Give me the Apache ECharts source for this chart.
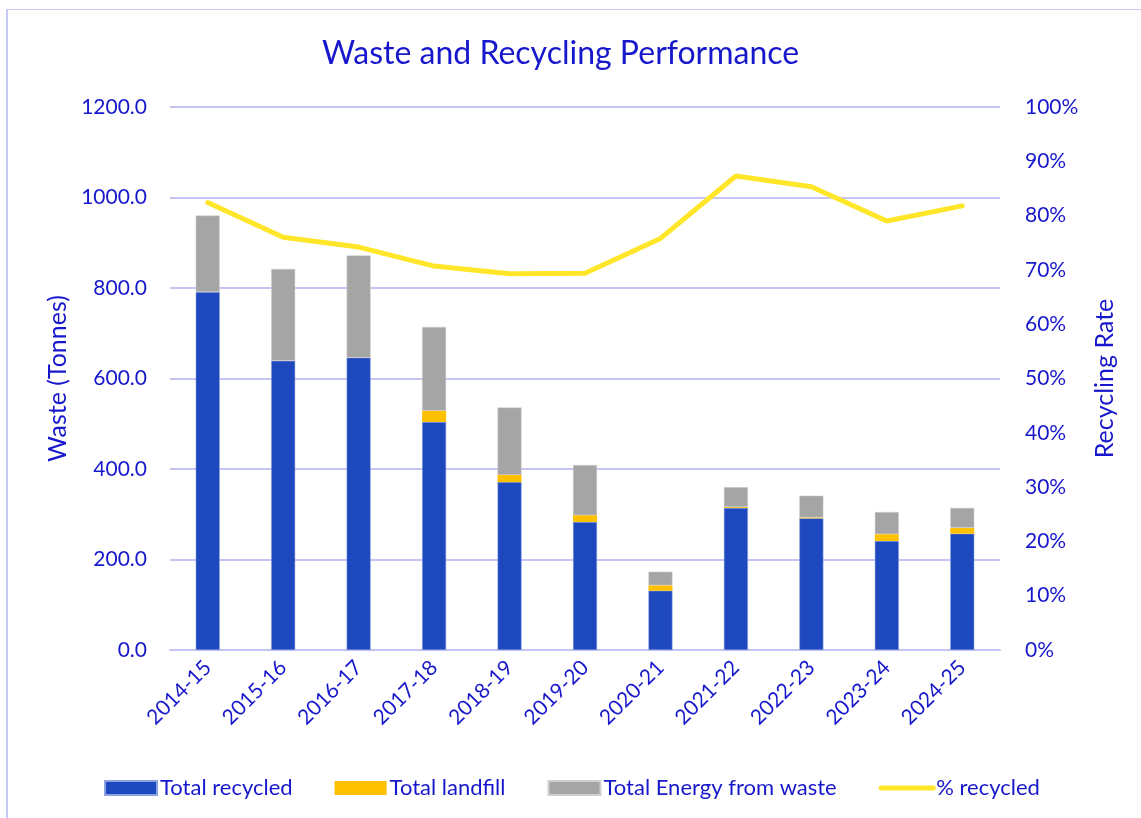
<!DOCTYPE html>
<html>
<head>
<meta charset="utf-8">
<script src="https://cdn.jsdelivr.net/npm/echarts@6/dist/echarts.min.js"></script>
<style>
  html, body { margin: 0; padding: 0; background: #fff; }
  #chart { width: 1141px; height: 818px; }
  #frame {
    position: absolute; left: 6px; top: 9px; right: -4px; bottom: -4px;
    border-left: 2px solid #C9C9F7; border-top: 1px solid #C9C9F7;
    pointer-events: none;
  }
</style>
</head>
<body>
<div id="chart"></div>
<div id="frame"></div>
<script>
// values
const years = ['2014-15', '2015-16', '2016-17', '2017-18', '2018-19', '2019-20',
  '2020-21', '2021-22', '2022-23', '2023-24', '2024-25'];
const totalRecycled = [791, 639, 646, 504, 371, 283, 131, 314, 291, 241, 257];
const totalLandfill = [0, 0, 0, 25, 16, 15, 12, 2, 2, 15, 13];
const energyFromWaste = [169, 203, 226, 185, 149, 111, 30, 44, 48, 49, 44];
const pctRecycled = [82.4, 76.0, 74.2, 70.7, 69.3, 69.4, 75.8, 87.3, 85.3, 79.0, 81.8];

const blueText = '#1717CC';
const font = 'Lato';

var myChart = echarts.init(document.getElementById('chart'));
var option;

option = {
    backgroundColor: '#fff',
    textStyle: { fontFamily: font, color: blueText },
    title: {
        text: 'Waste and Recycling Performance',
        left: 317,
        top: 33,
        textStyle: { fontFamily: font, fontSize: 32, fontWeight: 'normal', color: blueText }
    },
    legend: {
        bottom: 14,
        left: 99,
        itemWidth: 52,
        itemHeight: 14,
        itemGap: 42,
        textStyle: { fontFamily: font, fontSize: 22, color: blueText, padding: [0, 0, 0, -2] },
        data: [
            { name: 'Total recycled', icon: 'rect' },
            { name: 'Total landfill', icon: 'rect' },
            { name: 'Total Energy from waste', icon: 'rect' },
            {
                name: '% recycled',
                itemStyle: { color: 'transparent', borderWidth: 0, opacity: 0 },
                lineStyle: { width: 5, color: '#FFE629', cap: 'round' }
            }
        ]
    },
    grid: { left: 170, right: 141, top: 107, bottom: 168 },
    xAxis: {
        type: 'category',
        data: years,
        axisLine: { lineStyle: { color: '#C5C5F5', width: 2 } },
        axisTick: { show: false },
        axisLabel: { rotate: 45, margin: 14, fontSize: 21, color: blueText, fontFamily: font }
    },
    yAxis: [
        {
            type: 'value',
            name: 'Waste (Tonnes)',
            nameLocation: 'middle',
            nameRotate: 90,
            nameGap: 96,
            nameTextStyle: { fontSize: 25, color: blueText, fontFamily: font },
            min: 0,
            max: 1200,
            interval: 200,
            axisLine: { show: false },
            axisTick: { show: false },
            axisLabel: {
                fontSize: 21, color: blueText, margin: 23, fontFamily: font,
                formatter: function (v) { return v.toFixed(1); }
            },
            splitLine: { lineStyle: { color: '#C5C5F5', width: 2 } }
        },
        {
            type: 'value',
            name: 'Recycling Rate',
            nameLocation: 'middle',
            nameRotate: 90,
            nameGap: 92,
            nameTextStyle: { fontSize: 25, color: blueText, fontFamily: font },
            min: 0,
            max: 100,
            interval: 10,
            axisLine: { show: false },
            axisTick: { show: false },
            axisLabel: { fontSize: 21, color: blueText, margin: 25, fontFamily: font, formatter: '{value}%' },
            splitLine: { show: false }
        }
    ],
    series: [
        {
            name: 'Total recycled',
            type: 'bar',
            stack: 'waste',
            barWidth: 24,
            itemStyle: { color: '#1E48BE', borderColor: '#8FA3E0', borderWidth: 0.5 },
            data: totalRecycled
        },
        {
            name: 'Total landfill',
            type: 'bar',
            stack: 'waste',
            itemStyle: { color: '#FFC000' },
            data: totalLandfill
        },
        {
            name: 'Total Energy from waste',
            type: 'bar',
            stack: 'waste',
            itemStyle: { color: '#A5A5A5', borderColor: '#D0D0D0', borderWidth: 0.5 },
            data: energyFromWaste
        },
        {
            name: '% recycled',
            type: 'line',
            yAxisIndex: 1,
            symbol: 'none',
            lineStyle: { color: '#FFE629', width: 5, cap: 'round' },
            itemStyle: { color: '#FFE629' },
            data: pctRecycled
        }
    ]
};

option && myChart.setOption(option);
</script>
</body>
</html>
